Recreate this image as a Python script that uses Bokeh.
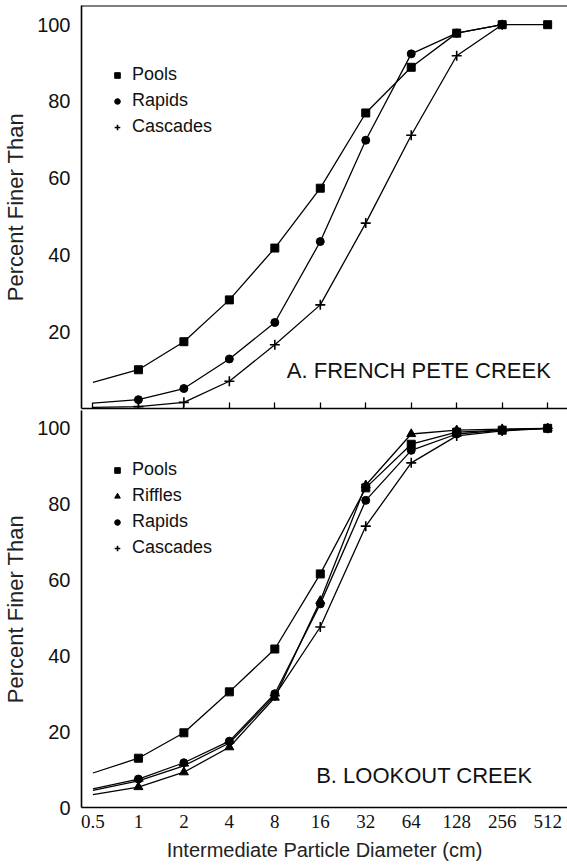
import numpy as np
from bokeh.plotting import figure
from bokeh.models import (Range1d, FixedTicker, CustomJSTickFormatter, Legend,
                          LegendItem, Label, Span)
from bokeh.layouts import column
from bokeh.embed import file_html
from bokeh.resources import INLINE

# ---------------- data ----------------
sizes = [0.5, 1, 2, 4, 8, 16, 32, 64, 128, 256, 512]   # cm (log2 scale)

# A. French Pete Creek (percent finer than)
fp_pools    = [6.8, 10.1, 17.4, 28.3, 41.8, 57.4, 77.0, 88.9, 97.8, 100, 100]
fp_rapids   = [1.4, 2.3, 5.2, 12.9, 22.4, 43.5, 69.9, 92.4, 97.8, 100, np.nan]
fp_cascades = [0.3, 0.5, 1.6, 7.1, 16.6, 27.0, 48.3, 71.2, 91.9, 100, np.nan]

# B. Lookout Creek
lo_pools    = [9.1, 13.0, 19.7, 30.5, 41.8, 61.6, 84.3, 95.8, 99.0, 99.5, 100]
lo_riffles  = [3.4, 5.4, 9.3, 15.9, 29.0, 54.5, 85.0, 98.5, 99.5, 99.8, 100]
lo_rapids   = [4.9, 7.5, 11.8, 17.5, 30.0, 53.7, 81.0, 94.2, 98.5, 99.5, 100]
lo_cascades = [4.5, 7.0, 11.0, 17.0, 29.5, 47.6, 74.2, 90.9, 98.0, 99.3, 100]

x_ticks = [0.5, 1, 2, 4, 8, 16, 32, 64, 128, 256, 512]
y_ticks_top = [20, 40, 60, 80, 100]
y_ticks_bot = [0, 20, 40, 60, 80, 100]

SANS = "Liberation Sans"
SERIF = "Liberation Serif"
W = 567
X_RANGE = (0.42, 693)


def style_y(p, ticks):
    ax = p.yaxis[0]
    ax.ticker = FixedTicker(ticks=ticks)
    ax.axis_label = "Percent Finer Than"
    ax.axis_label_text_font = SANS
    ax.axis_label_text_font_size = "22px"
    ax.axis_label_text_font_style = "normal"
    ax.axis_label_text_color = "#222222"
    ax.axis_label_standoff = 6
    ax.major_label_text_font = SANS
    ax.major_label_text_font_size = "20px"
    ax.major_label_text_color = "#111111"
    ax.major_label_standoff = 11
    ax.major_tick_in = 0
    ax.major_tick_out = 0
    ax.minor_tick_in = 0
    ax.minor_tick_out = 0
    ax.axis_line_width = 1.6
    ax.axis_line_color = "black"


def add_series(p, ys, marker, size):
    p.line(sizes, ys, line_color="black", line_width=1.3)
    if marker in ("cross",):
        r = p.scatter(sizes[1:], ys[1:], marker=marker, size=size,
                      line_color="black", line_width=1.6)
    else:
        r = p.scatter(sizes[1:], ys[1:], marker=marker, size=size,
                      fill_color="black", line_color="black")
    return r


def make_legend(items, y_from_bottom):
    leg = Legend(items=items, location=(29, y_from_bottom),
                 border_line_alpha=0, background_fill_alpha=0,
                 label_text_font=SANS, label_text_font_size="18px",
                 label_text_color="#111111",
                 glyph_width=14, glyph_height=20, label_height=20,
                 label_standoff=8, spacing=5, padding=0, margin=0)
    return leg


# ---------------- top panel ----------------
top = figure(width=W, height=410, x_axis_type="log",
             x_range=Range1d(*X_RANGE), y_range=Range1d(0, 105),
             output_backend="svg", toolbar_location=None,
             min_border_left=77, min_border_right=0,
             min_border_top=5, min_border_bottom=2)
top.outline_line_color = None
top.grid.visible = False
style_y(top, y_ticks_top)
xa = top.xaxis[0]
# tick marks only (as minor ticks, so that no tick labels are drawn)
xa.ticker = FixedTicker(ticks=[], minor_ticks=x_ticks)
xa.major_tick_in = 0
xa.major_tick_out = 0
xa.minor_tick_in = 6
xa.minor_tick_out = 0
xa.minor_tick_line_width = 1.3
xa.major_label_standoff = 0
xa.axis_line_width = 1.6

top.add_layout(Span(location=105, dimension="width", line_color="black",
                    line_width=2))

r1 = add_series(top, fp_pools, "square", 8)
r2 = add_series(top, fp_rapids, "circle", 8)
r3 = add_series(top, fp_cascades, "cross", 10)

top.add_layout(make_legend([LegendItem(label="Pools", renderers=[r1]),
                            LegendItem(label="Rapids", renderers=[r2]),
                            LegendItem(label="Cascades", renderers=[r3])],
                           271))
top.add_layout(Label(x=590, y=10, text="A.  FRENCH PETE CREEK",
                     text_align="right", text_baseline="middle",
                     text_font=SANS, text_font_size="22px",
                     text_color="#111111"))

# ---------------- bottom panel ----------------
bot = figure(width=W, height=456, x_axis_type="log",
             x_range=Range1d(*X_RANGE), y_range=Range1d(0, 104.7),
             output_backend="svg", toolbar_location=None,
             min_border_left=77, min_border_right=0,
             min_border_top=0, min_border_bottom=59)
bot.outline_line_color = None
bot.grid.visible = False
style_y(bot, y_ticks_bot)
xb = bot.xaxis[0]
xb.ticker = FixedTicker(ticks=x_ticks)
xb.formatter = CustomJSTickFormatter(code="return tick.toString();")
xb.major_tick_in = 0
xb.major_tick_out = 0
xb.minor_tick_in = 0
xb.minor_tick_out = 0
xb.major_label_text_font = SERIF
xb.major_label_text_font_size = "19px"
xb.major_label_text_color = "#111111"
xb.major_label_standoff = 7
xb.axis_line_width = 1.6
xb.axis_label = "Intermediate Particle Diameter (cm)"
xb.axis_label_text_font = SANS
xb.axis_label_text_font_size = "20px"
xb.axis_label_text_font_style = "normal"
xb.axis_label_text_color = "#222222"
xb.axis_label_standoff = 8

s1 = add_series(bot, lo_pools, "square", 8)
s2 = add_series(bot, lo_riffles, "triangle", 9)
s3 = add_series(bot, lo_rapids, "circle", 8)
s4 = add_series(bot, lo_cascades, "cross", 10)

bot.add_layout(make_legend([LegendItem(label="Pools", renderers=[s1]),
                            LegendItem(label="Riffles", renderers=[s2]),
                            LegendItem(label="Rapids", renderers=[s3]),
                            LegendItem(label="Cascades", renderers=[s4])],
                           249))
bot.add_layout(Label(x=490, y=8.4, text="B.  LOOKOUT  CREEK",
                     text_align="right", text_baseline="middle",
                     text_font=SANS, text_font_size="22px",
                     text_color="#111111"))

layout = column(top, bot, spacing=0)
open("out.html", "w").write(file_html(layout, INLINE))
